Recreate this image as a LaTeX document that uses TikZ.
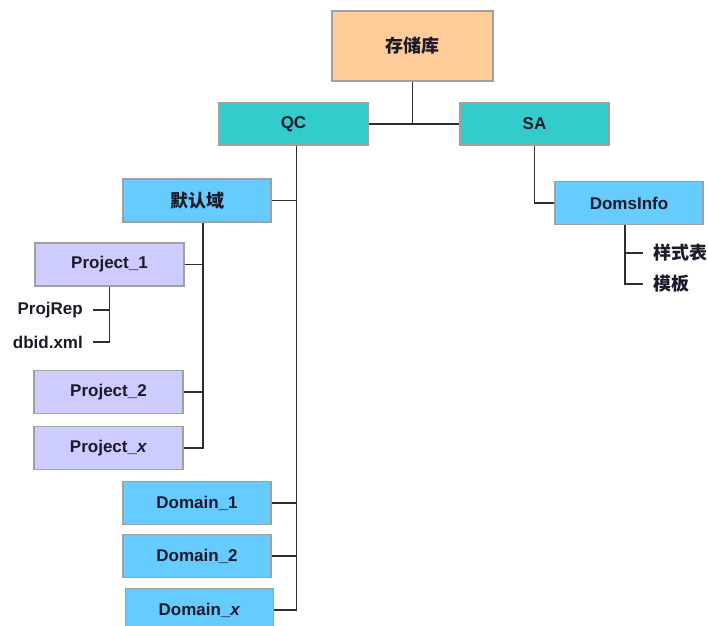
\documentclass[tikz,border=0pt]{standalone}
\usepackage{fontspec}
\setmainfont{Liberation Sans}
\newfontfamily\cjk{Noto Sans CJK SC}
\usepackage{tikz}
\usetikzlibrary{positioning}
\definecolor{boxgray}{HTML}{A0A0A0}
\definecolor{wiregray}{HTML}{2E2E2E}
\definecolor{rootorange}{HTML}{FFCC99}
\definecolor{repoteal}{HTML}{33CCCC}
\definecolor{domblue}{HTML}{66CCFF}
\definecolor{projlilac}{HTML}{CCCCFF}
\definecolor{inkdark}{HTML}{1A1A2A}
\tikzstyle{storebox} = [rectangle, minimum width=161pt, minimum height=70pt, text centered, draw=boxgray, line width=1.5pt, fill=rootorange, text=inkdark, font=\cjk\bfseries\fontsize{18}{20}\selectfont]
\tikzstyle{repobox} = [rectangle, minimum width=149pt, minimum height=42pt, text centered, draw=boxgray, line width=1.5pt, fill=repoteal, text=inkdark, font=\bfseries\fontsize{17}{20}\selectfont]
\tikzstyle{dombox} = [rectangle, minimum width=148pt, minimum height=43pt, text centered, draw=boxgray, line width=1.5pt, fill=domblue, text=inkdark, font=\bfseries\fontsize{17}{20}\selectfont]
\tikzstyle{projbox} = [rectangle, minimum width=149pt, minimum height=43pt, text centered, draw=boxgray, line width=1.5pt, fill=projlilac, text=inkdark, font=\bfseries\fontsize{17}{20}\selectfont]
\tikzstyle{leaf} = [inner xsep=10pt, inner ysep=2pt, text=inkdark, font=\bfseries\fontsize{17}{20}\selectfont]
\tikzstyle{wire} = [line width=1.7pt, draw=wiregray]

\begin{document}
\begin{tikzpicture}[x=1pt, y=-1pt, node distance=53pt]
	\useasboundingbox (0,0) rectangle (708,625);

	\node (store) [storebox] at (412.5,46) {存储库};
	\node (qc) [repobox] at (293.5,124) {QC};
	\node (sa) [repobox] at (534.5,124) {SA};

	\node (mrz) [dombox] at (197,200.5) {{\cjk\fontsize{18}{20}\selectfont 默认域}};
	\node (p1) [projbox] at (109.5,264.5) {Project\_1};
	\node (p2) [projbox] at (108.5,392) {Project\_2};
	\node (px) [projbox, below of=p2, yshift=-3pt] {Project\_\textit{x}};
	\node (projrep) [leaf, anchor=east] at (93,310) {ProjRep};
	\node (dbid) [leaf, anchor=east] at (93,342) {dbid.xml};

	\node (d1) [dombox] at (197,503) {Domain\_1};
	\node (d2) [dombox, below of=d1] {Domain\_2};
	\node (dx) [dombox, below of=d2, xshift=2.5pt, yshift=-1pt] {Domain\_\textit{x}};

	\node (doms) [dombox] at (629,203) {DomsInfo};
	\node (yangshi) [leaf, anchor=west, font=\cjk\bfseries\fontsize{18}{20}\selectfont] at (643,253) {样式表};
	\node (muban) [leaf, anchor=west, font=\cjk\bfseries\fontsize{18}{20}\selectfont] at (643,284) {模板};

	\draw [wire] (qc) -- (sa);
	\draw [wire] (store) -- (store |- qc);

	\draw [wire] ([xshift=3pt]qc.south) |- (mrz);
	\draw [wire] ([xshift=3pt]qc.south) |- (d1);
	\draw [wire] ([xshift=3pt]qc.south) |- (d2);
	\draw [wire] ([xshift=3pt]qc.south) |- (dx);

	\draw [wire] ([xshift=6pt]mrz.south) |- (p1);
	\draw [wire] ([xshift=6pt]mrz.south) |- (p2);
	\draw [wire] ([xshift=6pt]mrz.south) |- (px);

	\draw [wire] (p1) |- (projrep);
	\draw [wire] (p1) |- (dbid);

	\draw [wire] (sa) |- (doms);
	\draw [wire] ([xshift=-4pt]doms.south) |- (yangshi);
	\draw [wire] ([xshift=-4pt]doms.south) |- (muban);
\end{tikzpicture}
\end{document}
